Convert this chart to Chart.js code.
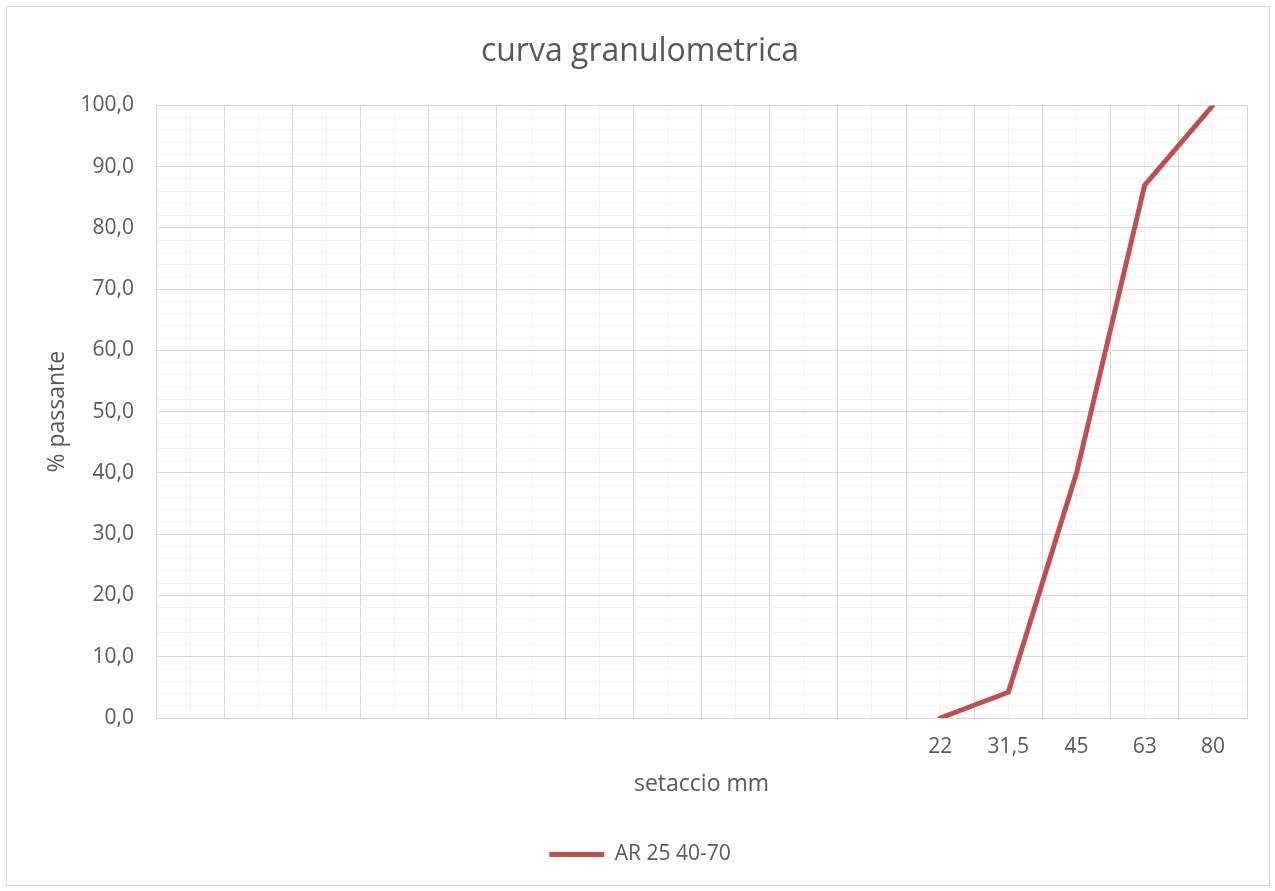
<!DOCTYPE html>
<html>
<head>
<meta charset="utf-8">
<script src="https://cdn.jsdelivr.net/npm/chart.js@4"></script>
<style>
  html, body { margin: 0; padding: 0; background: #fff; }
  #frame {
    position: absolute; left: 6px; top: 6px;
    width: 1262px; height: 878px;
    border: 1px solid #d9d9d9;
  }
  canvas { display: block; }
</style>
</head>
<body>
<div id="frame"><canvas id="chart" width="1262" height="878"></canvas></div>
<script>
// sieve sizes (mm): the first 11 categories are empty in the sheet
const sieves = ['', '', '', '', '', '', '', '', '', '', '', '22', '31,5', '45', '63', '80'];
const passing = [null, null, null, null, null, null, null, null, null, null, null, 0, 4.2, 40.0, 87.0, 100];
const seriesName = 'AR 25 40-70';

const textColor = '#595959';
const majorGrid = '#d9d9d9';
const minorGrid = '#f2f2f2';
const font = 'Open Sans';

const ctx = document.getElementById('chart').getContext('2d');
const chart = new Chart(ctx, {
    type: 'line',
    data: {
        labels: sieves,
        datasets: [{
            label: seriesName,
            data: passing,
            borderColor: '#c0504d',
            backgroundColor: '#c0504d',
            borderWidth: 5,
            borderCapStyle: 'round',
            borderJoinStyle: 'round',
            pointRadius: 0,
            tension: 0,
            spanGaps: false,
        }],
    },
    options: {
        responsive: false,
        animation: false,
        layout: { padding: { left: 26, right: 22, top: 0, bottom: 10 } },
        plugins: {
            title: {
                display: true,
                text: 'curva granulometrica',
                color: textColor,
                font: { family: font, size: 32, weight: 'normal' },
                padding: { top: 26, bottom: 34 },
            },
            legend: {
                display: true,
                position: 'bottom',
                labels: {
                    color: textColor,
                    font: { family: font, size: 21 },
                    usePointStyle: true,
                    pointStyle: 'line',
                    pointStyleWidth: 55,
                    boxWidth: 55,
                    padding: 10,
                },
            },
            tooltip: { enabled: false },
        },
        scales: {
            x: {
                type: 'category',
                offset: true,
                position: 'bottom',
                grid: { offset: true, color: majorGrid, lineWidth: 1, drawTicks: false },
                border: { color: majorGrid },
                ticks: {
                    color: textColor,
                    font: { family: font, size: 21 },
                    padding: 16,
                    maxRotation: 0,
                    autoSkip: false,
                },
                title: {
                    display: true,
                    text: 'setaccio mm',
                    color: textColor,
                    font: { family: font, size: 23 },
                    padding: { top: 36, bottom: 36 },
                },
                afterFit(scale) { scale.height = 116; },
            },
            xMinor: {
                type: 'category',
                offset: true,
                position: 'bottom',
                z: -1,
                grid: { offset: false, color: minorGrid, lineWidth: 1, drawTicks: false },
                border: { display: false },
                ticks: { display: false },
                afterFit(scale) { scale.height = 0; },
            },
            y: {
                min: 0,
                max: 100,
                position: 'left',
                grid: {
                    color: c => (c.tick && c.tick.value % 10 === 0) ? majorGrid : minorGrid,
                    drawTicks: false,
                },
                border: { color: majorGrid },
                ticks: {
                    stepSize: 2,
                    color: textColor,
                    font: { family: font, size: 21 },
                    padding: 22,
                    autoSkip: false,
                    callback: v => (v % 10 === 0) ? v.toFixed(1).replace('.', ',') : '',
                },
                title: {
                    display: true,
                    text: '% passante',
                    color: textColor,
                    font: { family: font, size: 23 },
                    padding: { top: 11, bottom: 11 },
                },
                afterFit(scale) { scale.width = 123; },
            },
        },
    },
});
</script>
</body>
</html>
